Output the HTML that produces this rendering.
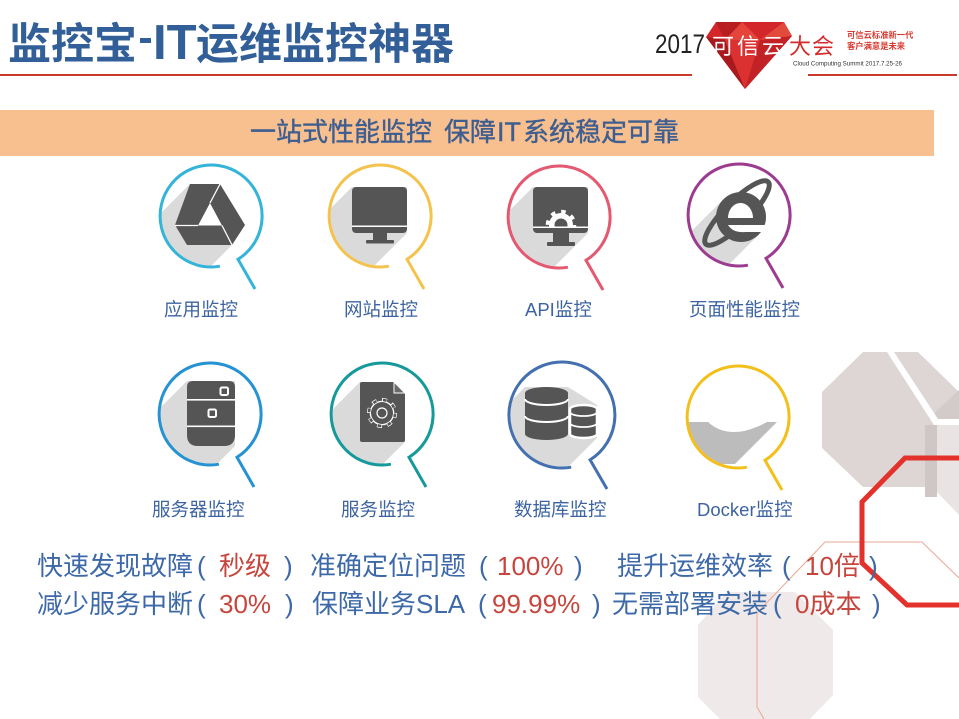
<!DOCTYPE html>
<html><head><meta charset="utf-8"><style>
html,body{margin:0;padding:0;background:#fff;width:959px;height:719px;overflow:hidden}
svg{display:block}
text{font-family:"Liberation Sans","Noto Sans CJK SC",sans-serif}
.cjk{font-family:"Noto Sans CJK SC","Liberation Sans",sans-serif}
</style></head><body>
<svg width="959" height="719" viewBox="0 0 959 719" xmlns="http://www.w3.org/2000/svg">
<defs>
<clipPath id="k"><circle cx="0" cy="0" r="49.5"/></clipPath>
<clipPath id="k2"><circle cx="0" cy="0" r="51.5"/></clipPath>
<clipPath id="gt"><rect x="-40" y="-40" width="80" height="49.5"/></clipPath>
</defs>
<rect width="959" height="719" fill="#ffffff"/>

<!-- decorative shapes right -->
<polygon points="863,352 918,352 959,392 959,424 937,424 937,497 925,497 925,487 863,487 822,448 822,392" fill="#ddd6d5"/>
<polygon points="928,419 959,390 959,419" fill="#d2cbca"/>
<polygon points="887,352 894,352 938,419 959,419 959,425 934,425" fill="#ffffff"/>
<rect x="925" y="425" width="12" height="72" fill="#cec7c6"/>
<polygon points="937,425 959,425 959,515 937,492" fill="#e9e4e3"/>
<polygon points="727,592 795,592 833,630 833,695 810,719 720,719 698,697 698,625" fill="#efe9e9"/>
<polyline points="959,578 922,542 825,542 757,613 757,707 764,719" fill="none" stroke="#e9a796" stroke-width="1"/>
<polyline points="959,458 905,458 862,502 862,563 907,605 959,605" fill="none" stroke="#e3322b" stroke-width="5"/>

<!-- header -->
<text class="cjk" x="8" y="59" font-size="43" font-weight="bold" fill="#335f99">监控宝</text>
<rect x="140" y="38" width="11" height="5" fill="#335f99"/>
<text x="153" y="59" font-size="49" font-weight="bold" fill="#335f99" style="font-family:'Liberation Sans',sans-serif">IT</text>
<text class="cjk" x="196" y="59" font-size="43" font-weight="bold" fill="#335f99">运维监控神器</text>
<rect x="0" y="74" width="692" height="2" fill="#c8392e"/>
<rect x="808" y="74" width="149" height="2" fill="#c8392e"/>

<!-- logo -->
<polygon points="716,22 784,22 792,36 745,89 706,37" fill="#d3262a"/>
<polygon points="716,22 742,22 725,40" fill="#b81d20"/>
<polygon points="706,37 725,40 745,89" fill="#a81a1d"/>
<polygon points="760,40 784,22 792,36" fill="#e24a3c"/>
<polygon points="745,89 760,40 792,36" fill="#c22226"/>
<polygon points="725,40 760,40 745,89" fill="#dc3131"/>
<polygon points="742,22 760,40 725,40" fill="#e5443a"/>
<text x="655" y="53" font-size="27" fill="#222" textLength="50" lengthAdjust="spacingAndGlyphs">2017</text>
<text class="cjk" x="712" y="54" font-size="22" fill="#ffffff" textLength="72" lengthAdjust="spacing">可信云</text>
<text class="cjk" x="789" y="54" font-size="22" fill="#d32b2b" textLength="45" lengthAdjust="spacing">大会</text>
<text class="cjk" x="847" y="38" font-size="8.3" font-weight="bold" fill="#d83a32">可信云标准新一代</text>
<text class="cjk" x="847" y="49" font-size="8.3" font-weight="bold" fill="#d83a32">客户满意是未来</text>
<text x="793" y="65.5" font-size="6.5" fill="#333" textLength="109" lengthAdjust="spacingAndGlyphs">Cloud Computing Summit 2017.7.25-26</text>

<!-- banner -->
<rect x="0" y="110" width="934" height="46" fill="#f8bf8f"/>
<g fill="#3e5e90" stroke="#3e5e90" stroke-width="0.4" font-size="26">
<text class="cjk" x="250" y="141">一站式性能监控</text>
<text class="cjk" x="444" y="141">保障</text>
<text x="497" y="141" font-size="27" style="font-family:'Liberation Sans',sans-serif">IT</text>
<text class="cjk" x="523" y="141">系统稳定可靠</text>
</g>

<!-- icon 1 -->
<g transform="translate(211,216)">
<g clip-path="url(#k)"><polygon points="-21,-32 9,-32 34,9 21,29 -59,109 -101,48" fill="#dadada"/></g>
<polygon points="-21,-32 9,-32 34,9 21,29 -24,29 -36,9" fill="#555"/>
<polygon points="-1,-13 -13,9.5 11,9.5" fill="#fff"/>
<path d="M9,-32 L-1,-13 M-36,9.5 L-13,9.5 M11,9.5 L21,29" stroke="#fff" stroke-width="1.3" fill="none"/>
<path d="M8.9 50.2A51 51 0 1 1 27 43.3L44 73" fill="none" stroke="#34b4d8" stroke-width="3"/>
</g>

<!-- icon 2 -->
<g transform="translate(380,216)">
<g clip-path="url(#k)"><polygon points="-28,-29 27,-29 27,17 -53,97 -108,51" fill="#dadada"/></g>
<rect x="-28" y="-29" width="55" height="46" rx="4" fill="#555"/>
<rect x="-28" y="9.5" width="55" height="1.5" fill="#fff"/>
<rect x="-7" y="17" width="14" height="7" fill="#555"/>
<rect x="-14" y="24" width="28" height="3.5" rx="1" fill="#555"/>
<path d="M8.9 50.2A51 51 0 1 1 27 43.3L44 73" fill="none" stroke="#f4c34e" stroke-width="3"/>
</g>

<!-- icon 3 -->
<g transform="translate(559,217)">
<g clip-path="url(#k)"><polygon points="-26,-30 29,-30 29,16 -51,96 -106,50" fill="#dadada"/></g>
<rect x="-26" y="-30" width="55" height="46" rx="4" fill="#555"/>
<g clip-path="url(#gt)">
<circle cx="2" cy="8" r="12" fill="#fff"/>
<circle cx="2" cy="8" r="13.5" fill="none" stroke="#fff" stroke-width="3.5" stroke-dasharray="4.5 6.1"/>
<circle cx="2" cy="8" r="6.5" fill="#555"/>
</g>
<rect x="-26" y="9.5" width="55" height="1.5" fill="#fff"/>
<rect x="-6" y="16" width="16" height="9" fill="#555"/>
<rect x="-12" y="25" width="28" height="4" rx="1" fill="#555"/>
<path d="M8.9 50.2A51 51 0 1 1 27 43.3L44 73" fill="none" stroke="#e45870" stroke-width="3"/>
</g>

<!-- icon 4 -->
<g transform="translate(739,215)">
<g clip-path="url(#k)"><polygon points="-15.7,-15.7 2,-23 19.7,-15.7 27,2 19.7,19.7 -60.3,99.7 -95.7,64.3" fill="#dadada"/></g>
<ellipse cx="-2" cy="-2" rx="44" ry="12" transform="rotate(-45 -2 -2)" fill="none" stroke="#555" stroke-width="5"/>
<circle cx="2" cy="2" r="25" fill="#555"/>
<path d="M-11 3 A12.5 15 0 0 1 14 3 Z" fill="#fff"/>
<path d="M-11 10 L30 10 L30 17 L6 17 Q-6 18 -11 10 Z" fill="#fff"/>
<path d="M8.9 50.2A51 51 0 1 1 27 43.3L44 73" fill="none" stroke="#9c3c90" stroke-width="3"/>
</g>

<!-- icon 5 -->
<g transform="translate(210,414)">
<g clip-path="url(#k)"><polygon points="-23,-33 25,-33 25,32 -55,112 -103,47" fill="#dadada"/></g>
<path d="M-17 -33 H19 Q25 -33 25 -27 V21 Q25 32 14 32 H-12 Q-23 32 -23 21 V-27 Q-23 -33 -17 -33 Z" fill="#555"/>
<rect x="-23" y="-15" width="48" height="1.6" fill="#fff"/>
<rect x="-23" y="11.5" width="48" height="1.6" fill="#fff"/>
<rect x="10.5" y="-26.5" width="7.5" height="7.5" rx="1.5" fill="#555" stroke="#fff" stroke-width="2"/>
<rect x="-1.5" y="-4.5" width="7.5" height="7.5" rx="1.5" fill="#555" stroke="#fff" stroke-width="2"/>
<path d="M8.9 50.2A51 51 0 1 1 27 43.3L44 73" fill="none" stroke="#2592d2" stroke-width="3"/>
</g>

<!-- icon 6 -->
<g transform="translate(382,414)">
<g clip-path="url(#k)"><polygon points="-22,-32 12,-32 23,-21 23,28 -57,108 -102,48" fill="#dadada"/></g>
<path d="M-22 -30 Q-22 -32 -20 -32 L12 -32 L23 -21 L23 26 Q23 28 21 28 L-20 28 Q-22 28 -22 26 Z" fill="#555"/>
<polygon points="12,-32 12,-21 23,-21" fill="#6a6a6a" stroke="#fff" stroke-width="1"/>
<g transform="translate(0,-1)">
<circle r="12.3" fill="#fff"/>
<circle r="13.6" fill="none" stroke="#fff" stroke-width="3" stroke-dasharray="5 5.68"/>
<circle r="11" fill="#555"/>
<circle r="13.1" fill="none" stroke="#555" stroke-width="2.6" stroke-dasharray="3.6 6.69" stroke-dashoffset="-0.6"/>
<circle r="5" fill="none" stroke="#fff" stroke-width="1.2"/>
</g>
<path d="M8.9 50.2A51 51 0 1 1 27 43.3L44 73" fill="none" stroke="#16999a" stroke-width="3"/>
</g>

<!-- icon 7 -->
<g transform="translate(562,415)">
<g clip-path="url(#k2)"><polygon points="-37,-28 6,-28 35,-10 35,23 -45,103 -117,52" fill="#dadada"/></g>
<path d="M-37 -22 A21.5 6 0 0 1 6 -22 V19 A21.5 6 0 0 1 -37 19 Z" fill="#555"/>
<path d="M-37 -16 A21.5 6 0 0 0 6 -16 M-37 1 A21.5 6 0 0 0 6 1" fill="none" stroke="#fff" stroke-width="2"/>
<path d="M8 -6 A13.5 4 0 0 1 35 -6 V19 A13.5 4 0 0 1 8 19 Z" fill="#555" stroke="#fff" stroke-width="2.5"/>
<path d="M8 -3 A13.5 4 0 0 0 35 -3 M8 8 A13.5 4 0 0 0 35 8" fill="none" stroke="#fff" stroke-width="1.8"/>
<path d="M9.2 52.2A53 53 0 1 1 28.1 44.9L45 74" fill="none" stroke="#4470b0" stroke-width="3"/>
</g>

<!-- icon 8 -->
<g transform="translate(738,417)">
<g clip-path="url(#k)"><path d="M-55 5 L-30 5 Q-8 25 29 5 L39 5 L-3 47 L-55 47 Z" fill="#bcbcbc"/></g>
<path d="M8.9 50.2A51 51 0 1 1 27 43.3L44 73" fill="none" stroke="#f3bf1b" stroke-width="3"/>
</g>

<!-- labels -->
<g fill="#3d64a0" font-size="18.5">
<text x="164" y="316">应用监控</text>
<text x="344" y="316">网站监控</text>
<text x="525" y="316">API监控</text>
<text x="689" y="316">页面性能监控</text>
<text x="152" y="516">服务器监控</text>
<text x="341" y="516">服务监控</text>
<text x="514" y="516">数据库监控</text>
<text x="697" y="516">Docker监控</text>
</g>

<!-- bottom lines -->
<g fill="#3d69a8" font-size="26">
<text x="37" y="575">快速发现故障</text>
<text x="197" y="575">(</text>
<text x="219" y="575" fill="#c6463d">秒级</text>
<text x="284" y="575">)</text>
<text x="310" y="575">准确定位问题</text>
<text x="479" y="575">(</text>
<text x="497" y="575" fill="#c6463d">100%</text>
<text x="574" y="575">)</text>
<text x="617" y="575">提升运维效率</text>
<text x="782" y="575">(</text>
<text x="805" y="575" fill="#c6463d">10倍</text>
<text x="869" y="575">)</text>

<text x="37" y="613">减少服务中断</text>
<text x="197" y="613">(</text>
<text x="219" y="613" fill="#c6463d">30%</text>
<text x="285" y="613">)</text>
<text x="312" y="613">保障业务SLA</text>
<text x="478" y="613">(</text>
<text x="492" y="613" fill="#c6463d">99.99%</text>
<text x="592" y="613">)</text>
<text x="612" y="613">无需部署安装</text>
<text x="773" y="613">(</text>
<text x="795" y="613" fill="#c6463d">0成本</text>
<text x="872" y="613">)</text>
</g>
</svg>
</body></html>
